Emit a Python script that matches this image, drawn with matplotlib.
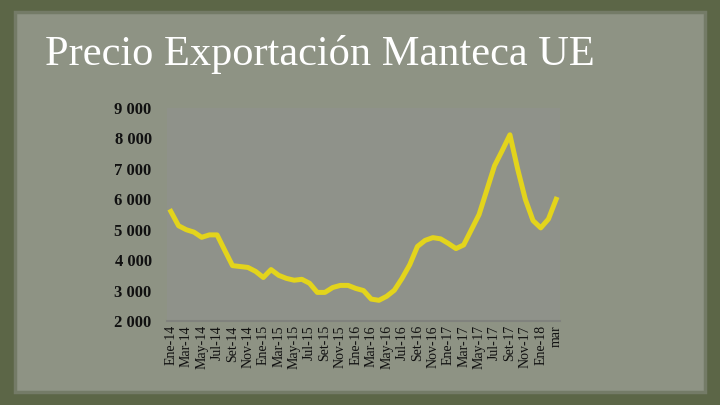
import matplotlib.pyplot as plt
from matplotlib.patches import Rectangle

# monthly export price, Ene-14 .. mar-18
meses = ['Ene-14', 'Feb-14', 'Mar-14', 'Abr-14', 'May-14', 'Jun-14', 'Jul-14', 'Ago-14', 'Set-14', 'Oct-14', 'Nov-14', 'Dic-14',
         'Ene-15', 'Feb-15', 'Mar-15', 'Abr-15', 'May-15', 'Jun-15', 'Jul-15', 'Ago-15', 'Set-15', 'Oct-15', 'Nov-15', 'Dic-15',
         'Ene-16', 'Feb-16', 'Mar-16', 'Abr-16', 'May-16', 'Jun-16', 'Jul-16', 'Ago-16', 'Set-16', 'Oct-16', 'Nov-16', 'Dic-16',
         'Ene-17', 'Feb-17', 'Mar-17', 'Abr-17', 'May-17', 'Jun-17', 'Jul-17', 'Ago-17', 'Set-17', 'Oct-17', 'Nov-17', 'Dic-17',
         'Ene-18', 'Feb-18', 'mar']
precio = [5600, 5130, 5000, 4920, 4750, 4830, 4830, 4320, 3820, 3790, 3760, 3630,
          3430, 3690, 3500, 3400, 3340, 3370, 3240, 2940, 2940, 3100, 3170, 3170,
          3070, 3000, 2720, 2680, 2810, 3010, 3400, 3850, 4450, 4650, 4740, 4700,
          4550, 4380, 4500, 5000, 5500, 6300, 7100, 7600, 8120, 7000, 6000, 5300,
          5060, 5350, 6000]
yticks = [2000, 3000, 4000, 5000, 6000, 7000, 8000, 9000]

fig = plt.figure(figsize=(7.2, 4.05), dpi=100)
fig.patch.set_facecolor('#5c6647')

# paper sheet
fig.patches.append(Rectangle((15/720, 1 - 392/405), 690/720, 380/405, transform=fig.transFigure,
                             facecolor='#8e9384', edgecolor='#747b67', linewidth=2.5, zorder=-10))

fig.text(45/720, 1 - 54/405, 'Precio Exportación Manteca UE', color='white',
         fontsize=30.5, family='Liberation Serif', va='center', ha='left')

ax = fig.add_axes([167/720, 1 - 321/405, 393/720, 213/405])
ax.set_facecolor('#8f928a')
ax.plot(range(len(precio)), precio, color='#e3d41c', linewidth=3.6, solid_joinstyle='round')

ax.set_xlim(-0.5, len(precio) - 0.5)
ax.set_ylim(2000, 9000)
ax.set_yticks(yticks)
ax.set_yticklabels([f'{v // 1000} 000' for v in yticks], family='Liberation Serif',
                   fontsize=12, fontweight='bold', color='#111111')
pos = list(range(0, len(meses), 2))
ax.set_xticks(pos)
ax.set_xticklabels([meses[i] for i in pos], rotation=90, family='Liberation Serif',
                   fontsize=10, color='#111111', va='top')
ax.tick_params(length=0, pad=3)
ax.tick_params(axis='y', pad=11)
for s in ['top', 'right', 'left']:
    ax.spines[s].set_visible(False)
ax.spines['bottom'].set_color('#80827d')
ax.spines['bottom'].set_linewidth(1.5)

fig.savefig('out.png', dpi=100, facecolor=fig.get_facecolor())
